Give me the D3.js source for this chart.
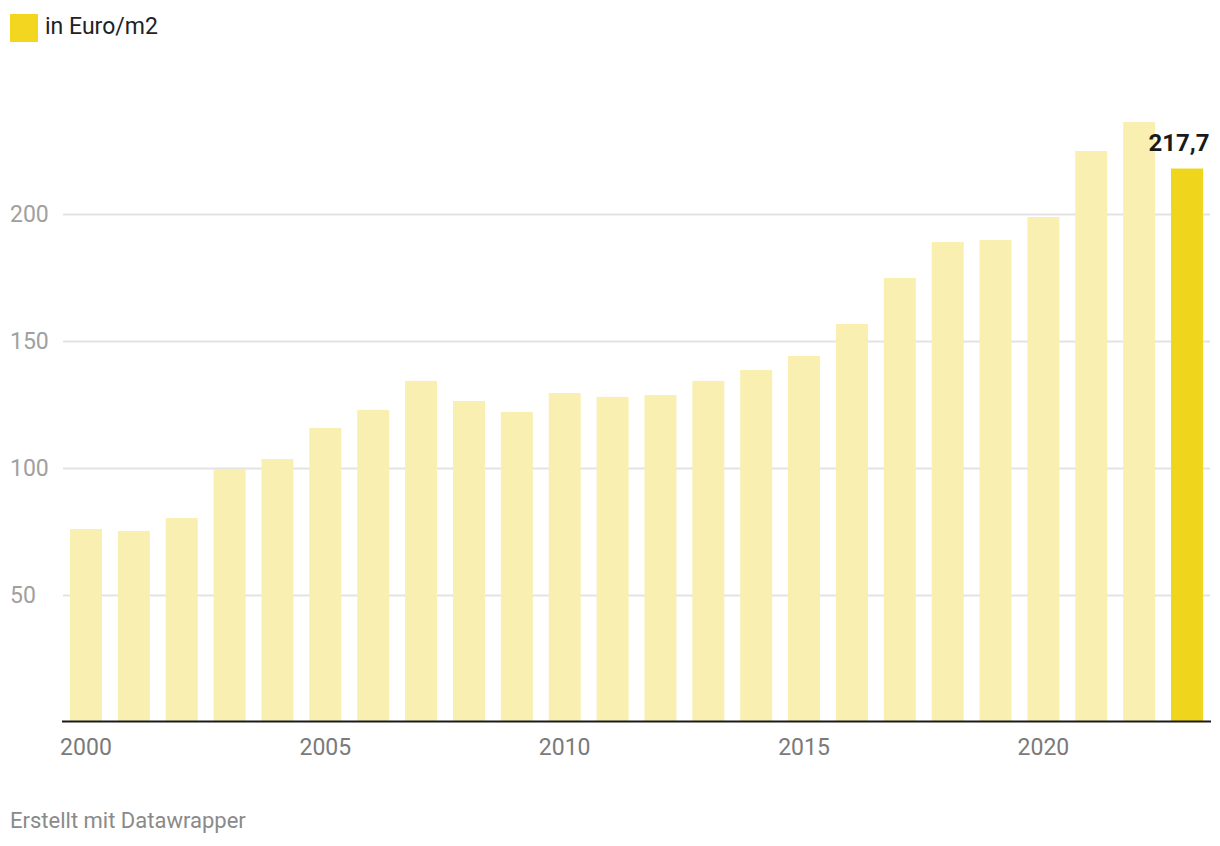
<!DOCTYPE html>
<html><head><meta charset="utf-8">
<script src="https://cdn.jsdelivr.net/npm/d3@7"></script>
<style>
html,body{margin:0;padding:0;background:#fff;}
svg{display:block;font-family:Roboto,"Noto Sans",sans-serif;}
</style></head>
<body><svg id="chart" width="1220" height="846"></svg>
<script>
const years = [2000,2001,2002,2003,2004,2005,2006,2007,2008,2009,2010,2011,2012,2013,2014,2015,2016,2017,2018,2019,2020,2021,2022,2023];
const values = [75.8,75.0,80.1,99.4,103.3,115.6,122.7,134.1,126.2,121.9,129.3,127.8,128.5,134.1,138.4,143.9,156.5,174.6,188.8,189.6,198.6,224.6,236.0,217.7];
const yTicks = [50,100,150,200];
const xTicks = [2000,2005,2010,2015,2020];
const legendLabel = "in Euro/m2";
const footerText = "Erstellt mit Datawrapper";
const highlightYear = 2023;

(function(){
const svg = d3.select("#chart");
const plotLeft = 62, plotRight = 1211, baseline = 721.5;

const x = d3.scaleBand().domain(years).range([plotLeft, plotRight]).paddingInner(0.332).paddingOuter(0.167);
const y = d3.scaleLinear().domain([0, 200]).range([baseline, 213.5]);

// legend
svg.append("rect").attr("x",10).attr("y",14).attr("width",28).attr("height",28).attr("fill","#f2d61f");
svg.append("text").attr("x",45).attr("y",34.3).attr("font-size",23).attr("fill","#222").text(legendLabel);

// gridlines
const grid = svg.append("g");
yTicks.forEach(t=>{
  grid.append("line").attr("x1",plotLeft+1).attr("x2",1210).attr("y1",Math.round(y(t))+0.5).attr("y2",Math.round(y(t))+0.5)
    .attr("stroke","#e3e3e3").attr("stroke-width",2);
  grid.append("text").attr("x",10).attr("y",y(t)+8.2).attr("font-size",23).attr("fill","#a0a0a0").text(t);
});

// bars
svg.append("g").selectAll("rect").data(years).join("rect")
  .attr("x",d=>x(d)).attr("width",x.bandwidth())
  .attr("y",(d,i)=>y(values[i])).attr("height",(d,i)=>baseline-y(values[i]))
  .attr("fill",d=>d===highlightYear?"#f0d51d":"#f9efb0");

// axis line
svg.append("line").attr("x1",plotLeft).attr("x2",plotRight).attr("y1",baseline).attr("y2",baseline).attr("stroke","#1a1a1a").attr("stroke-width",2);

// x ticks
svg.append("g").selectAll("text").data(xTicks).join("text")
  .attr("x",d=>x(d)+x.bandwidth()/2).attr("y",755).attr("text-anchor","middle")
  .attr("font-size",23).attr("fill","#7a7a7a").text(d=>d);

// value label
const hi = years.indexOf(highlightYear);
svg.append("text").attr("x",1209.5).attr("y",y(values[hi])-17.5).attr("text-anchor","end")
  .attr("font-size",24).attr("font-weight","bold").attr("fill","#1a1a1a")
  .text(d3.format(".1f")(values[hi]).replace(".",","));

// footer
svg.append("text").attr("x",10).attr("y",828).attr("font-size",22).attr("fill","#8a8a8a").text(footerText);
})();
</script></body></html>
